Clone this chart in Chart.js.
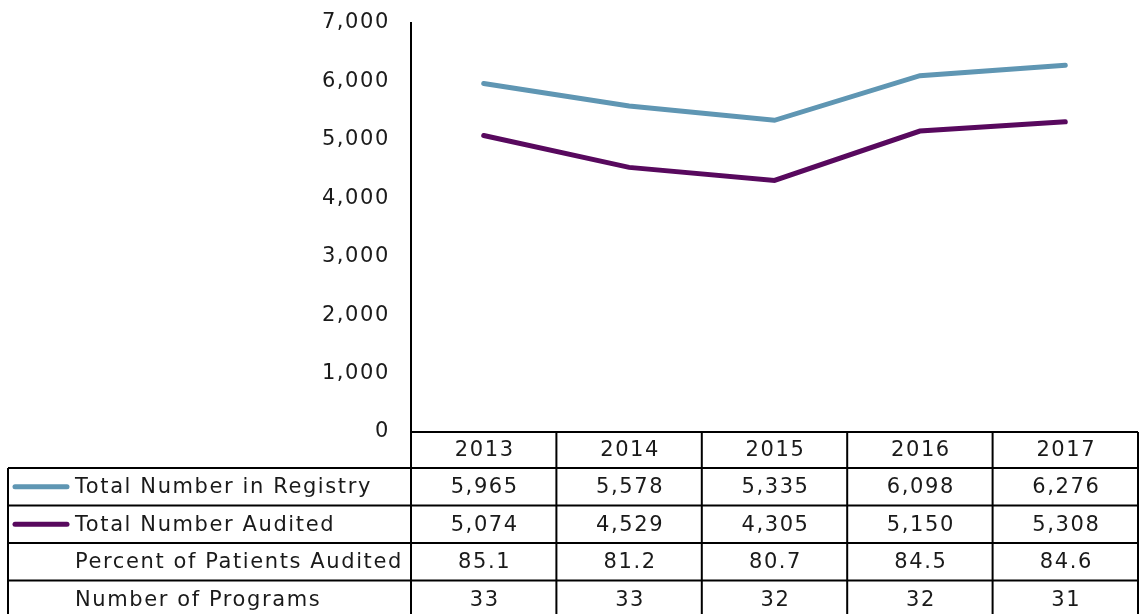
<!DOCTYPE html>
<html>
<head>
<meta charset="utf-8">
<script src="https://cdn.jsdelivr.net/npm/chart.js@4/dist/chart.umd.min.js"></script>
<style>
	html, body { margin: 0; padding: 0; background: #fff; }
	#wrap { width: 1140px; height: 614px; }
</style>
</head>
<body>
<div id="wrap"><canvas id="chart"></canvas></div>
<script>
const years = ["2013", "2014", "2015", "2016", "2017"];
const registryTotals = [5965, 5578, 5335, 6098, 6276];
const auditedTotals = [5074, 4529, 4305, 5150, 5308];
const percentAudited = [85.1, 81.2, 80.7, 84.5, 84.6];
const programCounts = [33, 33, 32, 32, 31];
const yMin = 0;
const yMax = 7000;
const yStep = 1000;

const FONT = "'DejaVu Sans', sans-serif";
const TEXT_COLOR = "#1a1a1a";
const REGISTRY_COLOR = "#5f96b3";
const AUDITED_COLOR = "#58095e";
const LETTER_SPACING = "1.6px";

// 表の行: ラベル、凡例色、値の整形
const tableRows = [
	{ label: "Total Number in Registry", color: REGISTRY_COLOR, values: registryTotals.map((v) => v.toLocaleString("en-US")) },
	{ label: "Total Number Audited", color: AUDITED_COLOR, values: auditedTotals.map((v) => v.toLocaleString("en-US")) },
	{ label: "Percent of Patients Audited", color: null, values: percentAudited.map((v) => v.toFixed(1)) },
	{ label: "Number of Programs", color: null, values: programCounts.map((v) => String(v)) },
];

// 幅の広いフォントに近づけるため字間を広げる
const spacingPlugin = {
	id: "spacing",
	beforeDraw(chart) {
		chart.ctx.letterSpacing = LETTER_SPACING;
	},
};

// チャートの下にデータ表を描くプラグイン
const dataTablePlugin = {
	id: "dataTable",
	afterDraw(chart) {
		const ctx = chart.ctx;
		const area = chart.chartArea;
		const xScale = chart.scales.x;
		const colW = (area.right - area.left) / years.length;
		const headerH = 36;
		const rowH = 37.5;
		const tableLeft = 8;

		ctx.save();
		ctx.strokeStyle = "#000";
		ctx.lineWidth = 2;

		// 横線
		ctx.beginPath();
		ctx.moveTo(area.left, area.bottom);
		ctx.lineTo(area.right, area.bottom);
		for (let r = 0; r < tableRows.length; r++) {
			const y = area.bottom + headerH + r * rowH;
			ctx.moveTo(tableLeft, y);
			ctx.lineTo(area.right, y);
		}
		const tableBottom = area.bottom + headerH + tableRows.length * rowH;
		// 縦線
		ctx.moveTo(tableLeft, area.bottom + headerH);
		ctx.lineTo(tableLeft, tableBottom);
		for (let c = 0; c <= years.length; c++) {
			const x = area.left + c * colW;
			ctx.moveTo(x, area.bottom);
			ctx.lineTo(x, tableBottom);
		}
		ctx.stroke();

		ctx.font = "21px " + FONT;
		ctx.letterSpacing = LETTER_SPACING;
		ctx.fillStyle = TEXT_COLOR;
		ctx.textBaseline = "middle";

		// 年の見出し
		ctx.textAlign = "center";
		years.forEach((yr, i) => {
			ctx.fillText(yr, xScale.getPixelForValue(i) + 1, area.bottom + headerH / 2 + 1);
		});

		tableRows.forEach((row, r) => {
			const cy = area.bottom + headerH + r * rowH + rowH / 2 + 1;
			if (row.color) {
				ctx.save();
				ctx.strokeStyle = row.color;
				ctx.lineWidth = 5;
				ctx.lineCap = "round";
				ctx.beginPath();
				ctx.moveTo(15, cy - 1);
				ctx.lineTo(67, cy - 1);
				ctx.stroke();
				ctx.restore();
			}
			ctx.textAlign = "left";
			ctx.fillText(row.label, 75, cy);
			ctx.textAlign = "center";
			row.values.forEach((v, i) => {
				ctx.fillText(v, xScale.getPixelForValue(i) + 1, cy);
			});
		});
		ctx.restore();
	},
};

new Chart(document.getElementById("chart"), {
	type: "line",
	data: {
		labels: years,
		datasets: [
			{
				label: "Total Number in Registry",
				data: registryTotals,
				borderColor: REGISTRY_COLOR,
				borderWidth: 5,
				borderCapStyle: "round",
				pointRadius: 0,
				tension: 0,
			},
			{
				label: "Total Number Audited",
				data: auditedTotals,
				borderColor: AUDITED_COLOR,
				borderWidth: 5,
				borderCapStyle: "round",
				pointRadius: 0,
				tension: 0,
			},
		],
	},
	options: {
		responsive: true,
		maintainAspectRatio: false,
		animation: false,
		layout: { padding: { top: 23, right: 2, bottom: 182, left: 0 } },
		scales: {
			x: {
				display: false,
				offset: true,
			},
			y: {
				min: yMin,
				max: yMax,
				afterFit: (scale) => {
					scale.width = 411;
					scale.paddingTop = 0;
					scale.paddingBottom = 0;
				},
				border: { display: true, color: "#000", width: 2 },
				grid: { display: false, drawTicks: false },
				ticks: {
					stepSize: yStep,
					padding: 21,
					color: TEXT_COLOR,
					font: { family: FONT, size: 21 },
					callback: (value) => value.toLocaleString("en-US"),
				},
			},
		},
		plugins: {
			legend: { display: false },
			tooltip: { enabled: false },
		},
	},
	plugins: [spacingPlugin, dataTablePlugin],
});
</script>
</body>
</html>
